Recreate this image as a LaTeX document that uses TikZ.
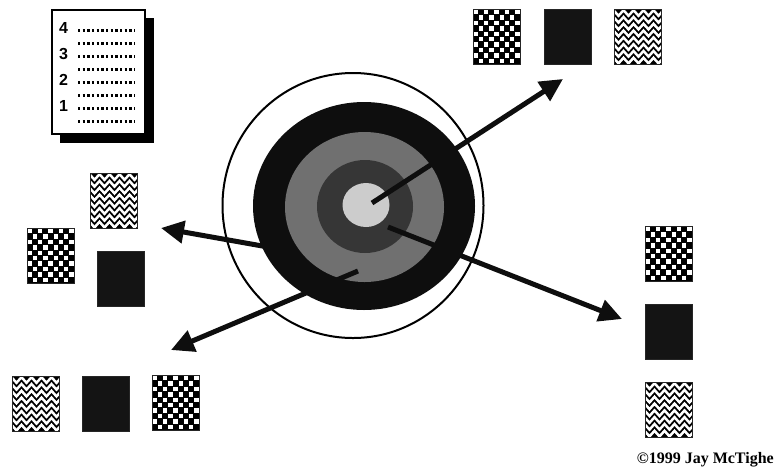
\documentclass[tikz,border=0pt]{standalone}
\usepackage{fontspec}
\newfontfamily\numfont{Liberation Sans}
\newfontfamily\cpfont{Liberation Serif}
\usetikzlibrary{arrows.meta,decorations.pathmorphing}
\definecolor{tgblack}{RGB}{14,14,14}
\definecolor{tgmid}{RGB}{112,112,112}
\definecolor{tgdark}{RGB}{54,54,54}
\definecolor{tglight}{RGB}{204,204,204}
\definecolor{swblack}{RGB}{20,20,20}
\newcommand{\swW}{47}
\newcommand{\swH}{55}
\tikzset{
  swframe/.style ={draw=black!85,line width=1pt,inner sep=0pt,minimum width=\swW pt,minimum height=\swH pt,anchor=north west},
  chkdot/.style  ={fill=white},
  zigline/.style ={white,line width=2.5pt,decorate,decoration={zigzag,segment length=10pt,amplitude=2.8pt}},
  tgarr/.style   ={line width=5pt,tgblack,-{Triangle[length=23pt,width=22pt]}},
  ring/.style    ={line width=2pt},
  pgline/.style  ={line width=2.4pt,dash pattern=on 2.3pt off 2.37pt},
  pgnum/.style   ={inner sep=0pt,anchor=base west,font=\numfont\bfseries\fontsize{16}{16}\selectfont},
}
% swatches: name, x, y of the top left corner
\newcommand{\chkbox}[3]{%
  \fill[black] (#2,#3) rectangle ++(\swW,\swH);
  \foreach \i in {0,...,8}{\foreach \j in {0,...,9}{%
    \ifodd\numexpr\i+\j\relax\else
      \fill[chkdot] (#2+0.6+\i*5.22,#3+1+\j*5.4) rectangle ++(4.3,4.3);
    \fi}}
  \node[swframe] (#1) at (#2,#3) {};}
\newcommand{\blkbox}[3]{%
  \fill[swblack] (#2,#3) rectangle ++(\swW,\swH);
  \node[swframe] (#1) at (#2,#3) {};}
\newcommand{\zigbox}[3]{%
  \begin{scope}
    \clip (#2,#3) rectangle ++(\swW,\swH);
    \fill[black] (#2,#3) rectangle ++(\swW,\swH);
    \foreach \k in {0,...,7}{ \draw[zigline] (#2-3,#3+4+\k*6.8) -- ++(\swW+8,0); }
  \end{scope}
  \node[swframe] (#1) at (#2,#3) {};}

\begin{document}
\begin{tikzpicture}[x=1pt,y=-1pt]
  \useasboundingbox (0,0) rectangle (775,467);
  % scoring sheet
  \fill[black] (60,18) rectangle (154,143);
  \filldraw[fill=white,draw=black,line width=1.5pt] (52,10) rectangle (145,134);
  \foreach \k in {0,...,7}{ \draw[pgline] (78,30.5+\k*13) -- (135,30.5+\k*13); }
  \node[pgnum] (n4) at (59,33) {4};
  \node[pgnum] (n3) at (59,59) {3};
  \node[pgnum] (n2) at (59,85) {2};
  \node[pgnum] (n1) at (59,111) {1};
  % swatches
  \chkbox{ta}{473}{9}    \blkbox{tb}{544}{9}    \zigbox{tc}{614}{9}
  \zigbox{la}{90}{173}   \chkbox{lb}{27}{228}   \blkbox{lc}{97}{251}
  \chkbox{ra}{645}{226}  \blkbox{rb}{645}{304}  \zigbox{rc}{645}{382}
  \zigbox{ba}{12}{376}   \blkbox{bb}{82}{376}   \chkbox{bc}{152}{375}
  % target
  \draw[ring] (353,205.5) ellipse [x radius=130.5pt,y radius=132.5pt];
  \fill[tgblack] (364,206) ellipse [x radius=111pt,y radius=104pt];
  \fill[tgmid] (364.5,207) ellipse [x radius=79.5pt,y radius=75pt];
  \fill[tgdark] (365,206.5) ellipse [x radius=48pt,y radius=46.5pt];
  \fill[tglight] (366,205) ellipse [x radius=23.5pt,y radius=22pt];
  % arrows
  \coordinate (a1s) at (372,203);  \coordinate (a1e) at (563,79);
  \coordinate (a2s) at (388,227);  \coordinate (a2e) at (622,319);
  \coordinate (a3s) at (268,247);  \coordinate (a3e) at (161,228);
  \coordinate (a4s) at (358,271);  \coordinate (a4e) at (171,350);
  \draw[tgarr] (a1s) -- (a1e);
  \draw[tgarr] (a2s) -- (a2e);
  \draw[tgarr] (a3s) -- (a3e);
  \draw[tgarr] (a4s) -- (a4e);
  \node[inner sep=0pt,anchor=base east,font=\cpfont\bfseries\fontsize{16}{16}\selectfont] (copy) at (774,463) {\textcopyright1999 Jay McTighe};
\end{tikzpicture}
\end{document}
